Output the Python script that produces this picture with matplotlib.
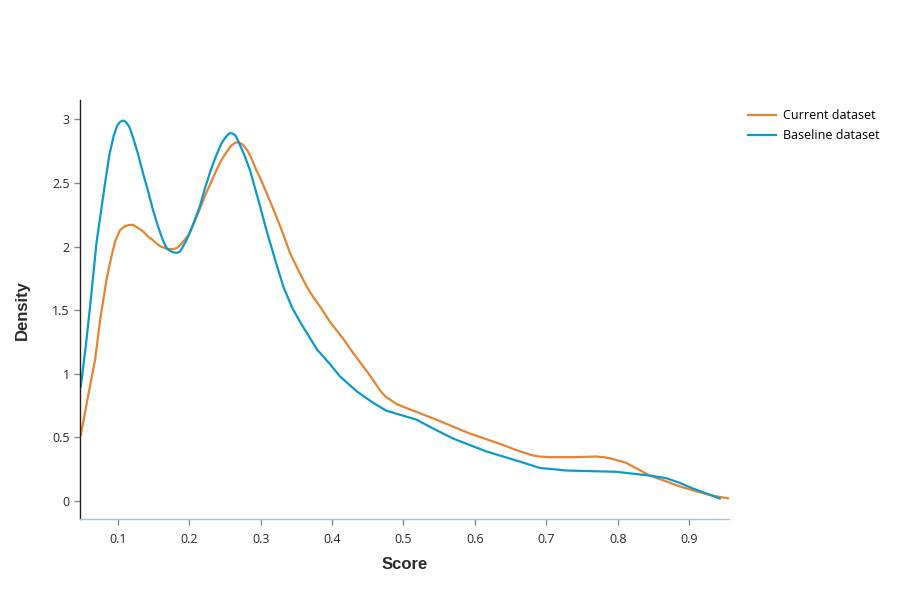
import matplotlib.pyplot as plt

# density curves
cur_x = [0.048, 0.057, 0.068, 0.075, 0.084, 0.090, 0.096, 0.103, 0.110, 0.116,
         0.121, 0.127, 0.135, 0.142, 0.149, 0.155, 0.160, 0.165, 0.169, 0.174,
         0.178, 0.183, 0.187, 0.193, 0.200, 0.207, 0.215, 0.222, 0.230, 0.238,
         0.245, 0.252, 0.258, 0.264, 0.269, 0.275, 0.282, 0.288, 0.294, 0.300,
         0.306, 0.318, 0.330, 0.341, 0.353, 0.365, 0.374, 0.383, 0.398, 0.415,
         0.430, 0.450, 0.460, 0.467, 0.475, 0.483, 0.491, 0.500, 0.546, 0.593,
         0.635, 0.663, 0.672, 0.680, 0.690, 0.705, 0.740, 0.770, 0.780, 0.790,
         0.812, 0.845, 0.868, 0.887, 0.905, 0.924, 0.940, 0.957]
cur_y = [0.52, 0.79, 1.11, 1.42, 1.74, 1.90, 2.04, 2.13, 2.16, 2.17,
         2.17, 2.15, 2.12, 2.08, 2.05, 2.02, 2.00, 1.99, 1.98, 1.98,
         1.98, 1.99, 2.01, 2.05, 2.10, 2.19, 2.30, 2.40, 2.50, 2.60,
         2.68, 2.74, 2.79, 2.815, 2.82, 2.80, 2.75, 2.68, 2.60, 2.53,
         2.45, 2.29, 2.12, 1.95, 1.81, 1.68, 1.60, 1.53, 1.40, 1.28,
         1.16, 1.01, 0.93, 0.87, 0.82, 0.79, 0.76, 0.74, 0.64, 0.53,
         0.45, 0.39, 0.375, 0.36, 0.35, 0.345, 0.345, 0.35, 0.345, 0.335,
         0.30, 0.20, 0.155, 0.115, 0.085, 0.055, 0.035, 0.02]

base_x = [0.048, 0.055, 0.061, 0.070, 0.082, 0.088, 0.094, 0.099, 0.103, 0.107,
          0.111, 0.116, 0.121, 0.128, 0.135, 0.142, 0.149, 0.156, 0.163, 0.168,
          0.172, 0.177, 0.182, 0.187, 0.191, 0.196, 0.200, 0.207, 0.215, 0.222,
          0.230, 0.238, 0.245, 0.251, 0.256, 0.260, 0.265, 0.270, 0.277, 0.285,
          0.296, 0.308, 0.320, 0.332, 0.344, 0.356, 0.368, 0.379, 0.398, 0.411,
          0.435, 0.458, 0.467, 0.476, 0.497, 0.518, 0.545, 0.570, 0.616, 0.663,
          0.680, 0.691, 0.710, 0.728, 0.798, 0.845, 0.868, 0.886, 0.905, 0.943]
base_y = [0.90, 1.22, 1.53, 2.03, 2.50, 2.72, 2.87, 2.95, 2.98, 2.99,
          2.98, 2.94, 2.86, 2.73, 2.58, 2.44, 2.29, 2.16, 2.05, 1.99,
          1.97, 1.955, 1.95, 1.96, 2.00, 2.05, 2.10, 2.20, 2.32, 2.46,
          2.60, 2.72, 2.81, 2.86, 2.89, 2.89, 2.87, 2.81, 2.72, 2.60,
          2.38, 2.13, 1.90, 1.68, 1.52, 1.40, 1.29, 1.19, 1.07, 0.98,
          0.86, 0.77, 0.74, 0.71, 0.675, 0.64, 0.56, 0.49, 0.39, 0.31,
          0.28, 0.26, 0.25, 0.24, 0.23, 0.20, 0.18, 0.145, 0.10, 0.02]

x_ticks = [0.1, 0.2, 0.3, 0.4, 0.5, 0.6, 0.7, 0.8, 0.9]
y_ticks = [0, 0.5, 1, 1.5, 2, 2.5, 3]
y_tick_labels = ['0', '0.5', '1', '1.5', '2', '2.5', '3']

plt.rcParams['font.family'] = ['Open Sans', 'DejaVu Sans']

fig = plt.figure(figsize=(9, 6), dpi=100)
ax = fig.add_axes([0.089, 0.135, 0.721, 0.698])

ax.plot(cur_x, cur_y, color='#E8832F', lw=1.6, label='Current dataset',
        solid_joinstyle='round')
ax.plot(base_x, base_y, color='#0A9BCB', lw=1.6, label='Baseline dataset',
        solid_joinstyle='round')

ax.set_xlim(0.047, 0.956)
ax.set_ylim(-0.141, 3.15)
ax.set_xticks(x_ticks)
ax.set_xticklabels([str(t) for t in x_ticks])
ax.set_yticks(y_ticks)
ax.set_yticklabels(y_tick_labels)

for s in ['top', 'right']:
    ax.spines[s].set_visible(False)
ax.spines['left'].set_color('#222222')
ax.spines['left'].set_linewidth(1)
ax.spines['bottom'].set_color('#B0C4DE')
ax.spines['bottom'].set_linewidth(1)
ax.tick_params(axis='both', colors='#888888', labelcolor='#2a2a2a',
               labelsize=9, length=4, width=1)
ax.tick_params(axis='x', pad=6)

ax.set_xlabel('Score', fontsize=12, fontweight='bold', family='Liberation Sans',
              color='#2a2a2a', labelpad=8)
ax.set_ylabel('Density', fontsize=12, fontweight='bold', family='Liberation Sans',
              color='#2a2a2a', labelpad=16)

fig.legend(loc='upper left', bbox_to_anchor=(0.825, 0.826), frameon=False,
           fontsize=9, handlelength=2.3, handletextpad=0.55, labelspacing=0.55,
           borderaxespad=0)

fig.savefig('out.png', dpi=100)
